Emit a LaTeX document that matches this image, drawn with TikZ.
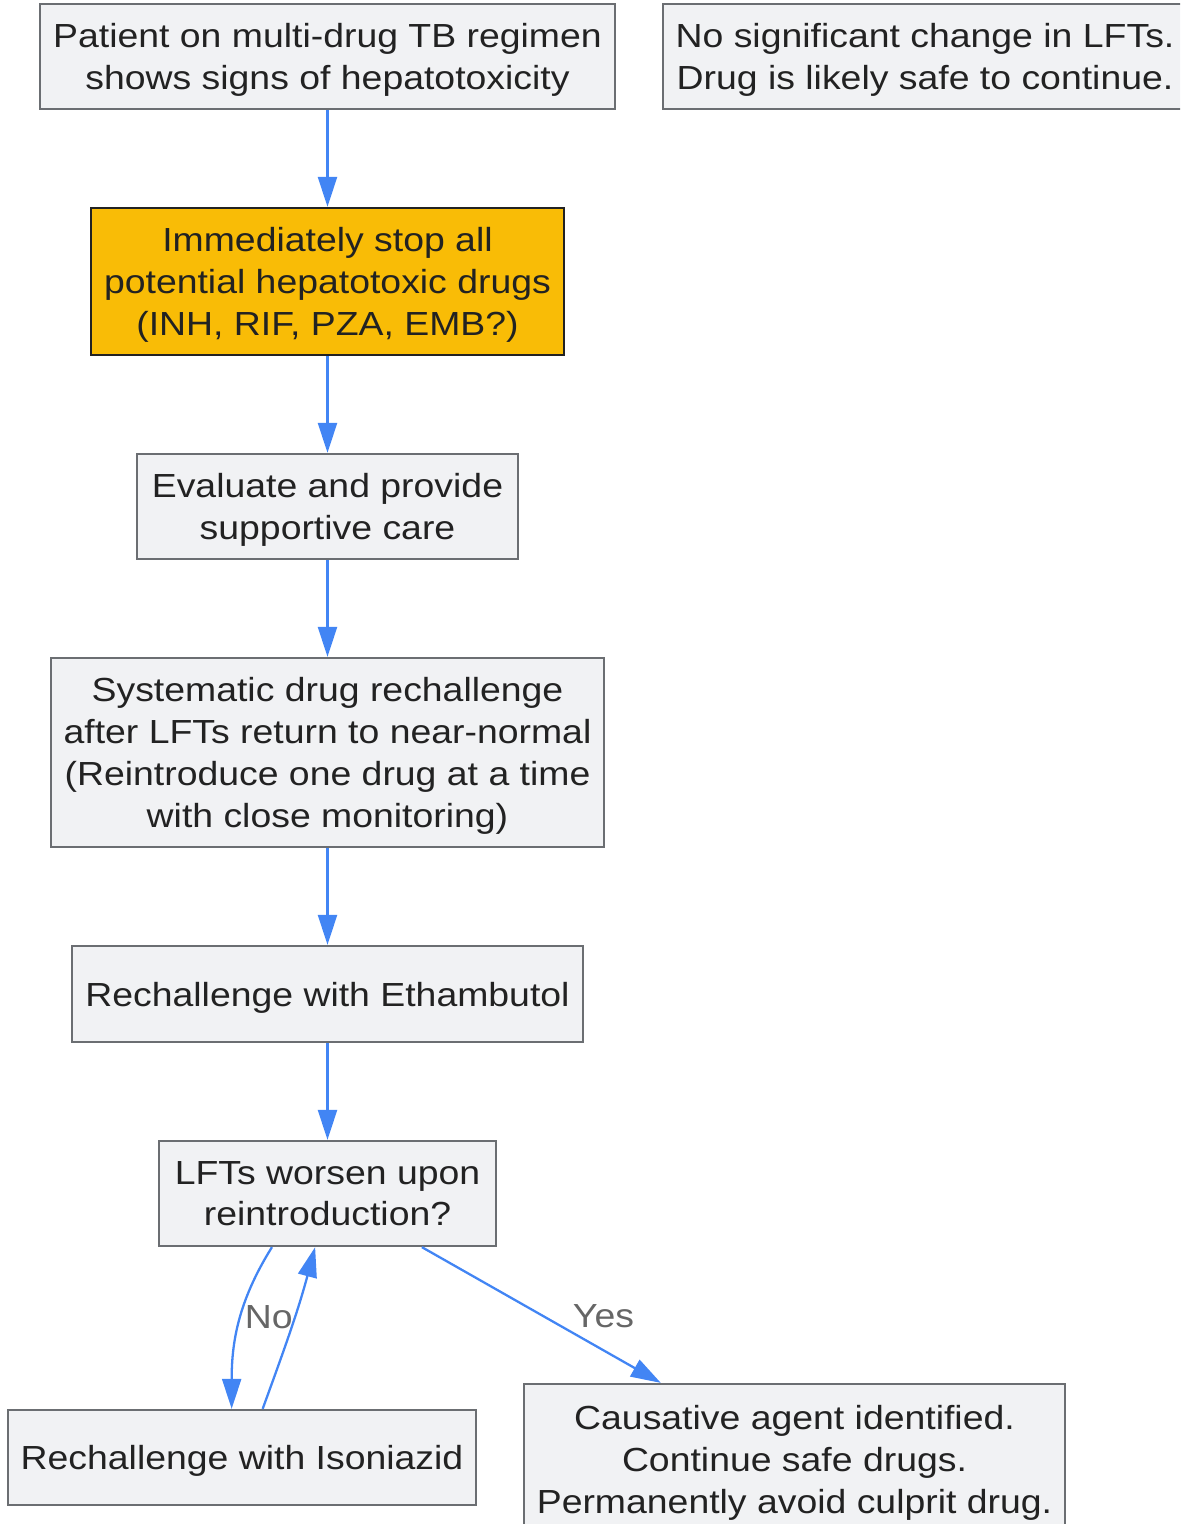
\documentclass[tikz,border=0pt]{standalone}
\usepackage{fontspec}
\setmainfont{Liberation Sans}[FakeStretch=1.12]
\usetikzlibrary{arrows.meta}
\definecolor{boxfill}{HTML}{F1F2F4}
\definecolor{boxline}{HTML}{6B6E72}
\definecolor{alertfill}{HTML}{F9BC06}
\definecolor{flowblue}{HTML}{4285F4}
\definecolor{labelgray}{HTML}{666666}
\definecolor{textdark}{HTML}{222222}

\begin{document}
\begin{tikzpicture}[
        x=0.02cm, y=0.02cm,
        font=\fontsize{19}{23.9}\selectfont,
        stepbox/.style={rectangle, draw=boxline, fill=boxfill, line width=1.3pt, text=textdark, align=center, inner sep=0pt, text depth=-2.5pt},
        alertbox/.style={stepbox, draw=textdark, fill=alertfill},
        flow/.style={-{Triangle[length=0.6cm, width=0.38cm]}, flowblue, line width=1.3pt},
        answer/.style={text=labelgray, inner sep=0pt}
    ]
    \useasboundingbox (0,0) rectangle (1180,-1524);
    \clip (0,0) rectangle (1180,-1524);
    % Steps
    \node (patient) at (327.5,-56.5) [stepbox, minimum width=11.5cm, minimum height=2.1cm] {Patient on multi-drug TB regimen\\shows signs of hepatotoxicity};
    \node (nochange) at (925,-56.5) [stepbox, minimum width=10.48cm, minimum height=2.1cm] {No significant change in LFTs.\\Drug is likely safe to continue.};
    \node (stopall) at (327.5,-281.5) [alertbox, minimum width=9.46cm, minimum height=2.94cm] {Immediately stop all\\potential hepatotoxic drugs\\(INH, RIF, PZA, EMB?)};
    \node (evaluate) at (327.5,-506.5) [stepbox, minimum width=7.62cm, minimum height=2.1cm] {Evaluate and provide\\supportive care};
    \node (rechallenge) at (327.5,-752.5) [stepbox, minimum width=11.06cm, minimum height=3.78cm] {Systematic drug rechallenge\\after LFTs return to near-normal\\(Reintroduce one drug at a time\\with close monitoring)};
    \node (ethambutol) at (327.5,-994) [stepbox, minimum width=10.22cm, minimum height=1.92cm] {Rechallenge with Ethambutol};
    \node (worsen) at (327.5,-1193.5) [stepbox, minimum width=6.74cm, minimum height=2.1cm] {LFTs worsen upon\\reintroduction?};
    \node (isoniazid) at (242,-1457.5) [stepbox, minimum width=9.36cm, minimum height=1.9cm] {Rechallenge with Isoniazid};
    \node (culprit) at (794.5,-1459) [stepbox, minimum width=10.82cm, minimum height=3cm] {Causative agent identified.\\Continue safe drugs.\\Permanently avoid culprit drug.};

    % Connectors
    \draw[flow] (patient) -- (stopall);
    \draw[flow] (stopall) -- (evaluate);
    \draw[flow] (evaluate) -- (rechallenge);
    \draw[flow] (rechallenge) -- (ethambutol);
    \draw[flow] (ethambutol) -- (worsen);
    \draw[flow] (worsen.224) to[out=238, in=90] node[answer, pos=0.45, right=0.06cm] {No} (isoniazid.102);
    \draw[flow] (isoniazid.67) to[out=70, in=255] (worsen.257);
    \draw[flow] (worsen) -- node[answer, pos=0.76, above=0.42cm] {Yes} (culprit);
    \end{tikzpicture}
\end{document}
